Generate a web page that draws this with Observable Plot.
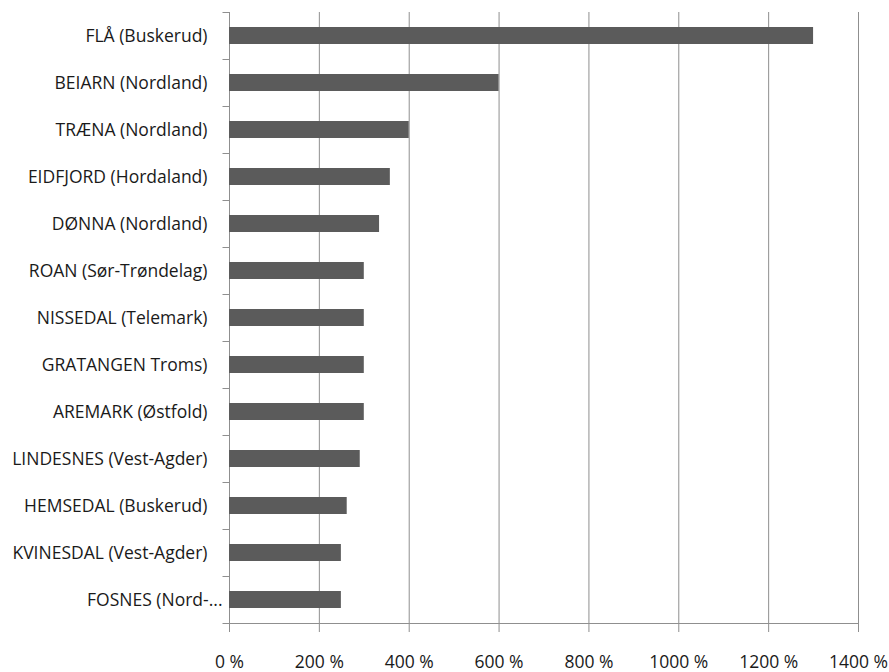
<!DOCTYPE html>
<html>
<head>
<meta charset="utf-8">
<script src="https://cdn.jsdelivr.net/npm/d3@7"></script>
<script src="https://cdn.jsdelivr.net/npm/@observablehq/plot@0.6"></script>
<style>
  body { margin: 0; background: #fff; }
  #chart svg { display: block; overflow: visible; }
</style>
</head>
<body>
<div id="chart"></div>
<script>
const municipalities = [
  "FLÅ (Buskerud)",
  "BEIARN (Nordland)",
  "TRÆNA (Nordland)",
  "EIDFJORD (Hordaland)",
  "DØNNA (Nordland)",
  "ROAN (Sør-Trøndelag)",
  "NISSEDAL (Telemark)",
  "GRATANGEN Troms)",
  "AREMARK (Østfold)",
  "LINDESNES (Vest-Agder)",
  "HEMSEDAL (Buskerud)",
  "KVINESDAL (Vest-Agder)",
  "FOSNES (Nord-..."
];
const growth = [1300, 600, 400, 358, 334, 300, 300, 300, 300, 291, 262, 249, 249];
const xTicks = [0, 200, 400, 600, 800, 1000, 1200, 1400];

const data = municipalities.map((name, i) => ({name, value: growth[i]}));
const lastName = municipalities[municipalities.length - 1];

const gridColor = "#8f8f8f";
const textColor = "#1a1a1a";
const fs = 17.5;

function boundaryTicks(index, scales) {
  const {x, y} = scales;
  const bw = y.bandwidth ? y.bandwidth() : 0;
  const step = y.step ? y.step() : bw;
  const g = d3.create("svg:g").attr("stroke", gridColor).attr("stroke-width", 1);
  const x0 = Math.round(x(0)) + 0.5;
  municipalities.forEach(name => {
    const yb = Math.round(y(name) + bw / 2 - step / 2) + 0.5;
    g.append("line").attr("x1", x0 - 7).attr("x2", x0).attr("y1", yb).attr("y2", yb);
  });
  const yBottom = Math.round(y(lastName) + bw / 2 + step / 2) + 0.5;
  g.append("line").attr("x1", x0 - 7).attr("x2", Math.round(x(1400)) + 0.5).attr("y1", yBottom).attr("y2", yBottom);
  return g.node();
}

const chart = Plot.plot({
  width: 889,
  height: 672,
  marginLeft: 229,
  marginRight: 31,
  marginTop: 12,
  marginBottom: 48,
  style: {fontFamily: "'Open Sans', sans-serif", fontSize: fs + "px", color: textColor, background: "#fff", overflow: "visible"},
  x: {domain: [0, 1400], ticks: xTicks, tickFormat: d => d + " %", label: null},
  y: {domain: municipalities, paddingInner: 0.63, paddingOuter: 0.315, label: null},
  marks: [
    Plot.gridX(xTicks, {stroke: gridColor, strokeOpacity: 1}),
    Plot.barX(data, {x: "value", y: "name", fill: "#5b5b5b"}),
    boundaryTicks,
    Plot.axisX({ticks: xTicks, tickSize: 8, tickPadding: 23, stroke: gridColor, strokeOpacity: 1, fill: textColor, fontSize: fs, tickFormat: d => d + " %", label: null}),
    Plot.axisY({ticks: municipalities.slice(0, -1), tickSize: 0, tickPadding: 22, fill: textColor, fontSize: fs, label: null}),
    Plot.axisY({ticks: [lastName], tickSize: 0, tickPadding: 7, fill: textColor, fontSize: fs, label: null})
  ]
});
document.getElementById("chart").appendChild(chart);
</script>
</body>
</html>
